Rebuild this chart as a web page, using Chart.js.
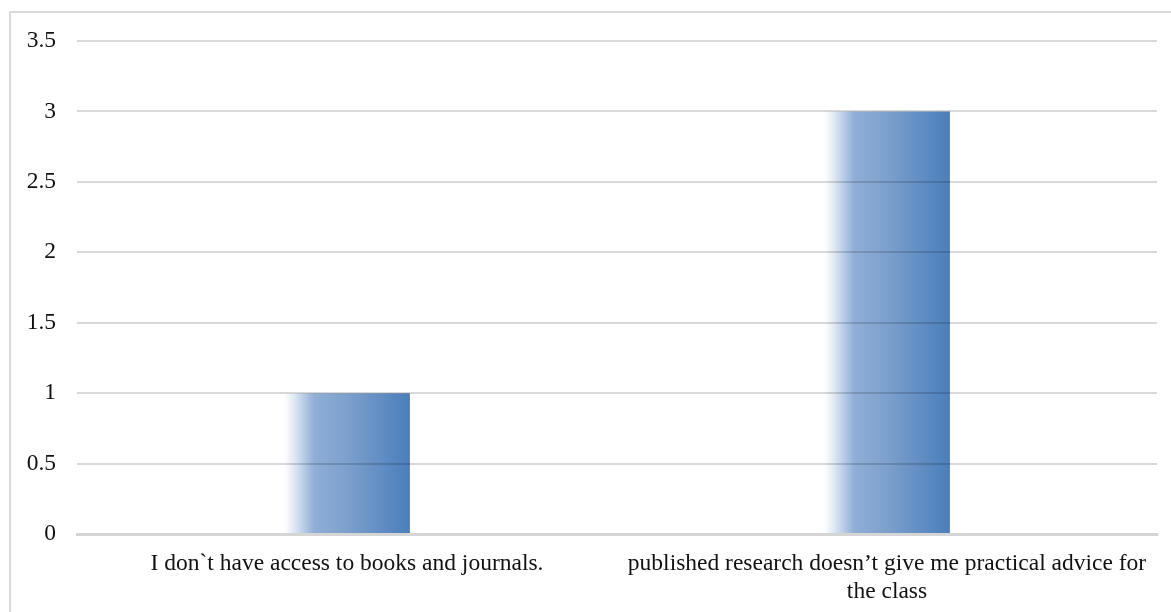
<!DOCTYPE html>
<html>
<head>
<meta charset="utf-8">
<script src="https://cdn.jsdelivr.net/npm/chart.js@4/dist/chart.umd.min.js"></script>
<style>
  html, body { margin: 0; padding: 0; background: #ffffff; }
  #wrap { position: relative; width: 1171px; height: 612px; overflow: hidden; background: #ffffff; }
  #frame { position: absolute; left: 9px; top: 11px; width: 1200px; height: 700px; border: 2px solid #d9d9d9; box-sizing: border-box; }
  #holder { position: absolute; left: 0; top: 0; width: 1171px; height: 612px; }
</style>
</head>
<body>
<div id="wrap">
  <div id="frame"></div>
  <div id="holder"><canvas id="chart" width="1171" height="612"></canvas></div>
</div>
<script>
// Reasons given for not using published research
const categories = [
  "I don`t have access to books and journals.",
  ["published research doesn’t give me practical advice for", "the class"]
];
const responses = [1, 3];
const yTicks = [0, 0.5, 1, 1.5, 2, 2.5, 3, 3.5];

const BAR_PCT = 0.466;
const CAT_PCT = 0.5;

// Horizontal white-to-blue fill across each bar, built from the x scale
function barFill(c) {
  const chart = c.chart;
  const xs = chart.scales && chart.scales.x;
  if (!xs || !chart.chartArea || c.dataIndex === undefined) return '#7da0cc';
  const w = (xs.width / categories.length) * CAT_PCT * BAR_PCT;
  const cx = xs.getPixelForValue(c.dataIndex);
  const g = chart.ctx.createLinearGradient(cx - w / 2, 0, cx + w / 2, 0);
  g.addColorStop(0.00, '#ffffff');
  g.addColorStop(0.07, '#e4ebf5');
  g.addColorStop(0.24, '#90aed6');
  g.addColorStop(0.50, '#7da0cc');
  g.addColorStop(1.00, '#4a7ebb');
  return g;
}

new Chart(document.getElementById('chart'), {
  type: 'bar',
  data: {
    labels: categories,
    datasets: [{
      data: responses,
      backgroundColor: barFill,
      borderWidth: 0,
      barPercentage: BAR_PCT,
      categoryPercentage: CAT_PCT
    }]
  },
  options: {
    responsive: false,
    animation: false,
    events: [],
    layout: { padding: { left: 0, top: 41, right: 14, bottom: 0 } },
    plugins: { legend: { display: false }, tooltip: { enabled: false } },
    scales: {
      x: {
        grid: { display: false, drawTicks: false },
        border: { display: true, color: '#d5d5d5', width: 3 },
        ticks: {
          color: '#111111',
          font: { family: 'Liberation Serif', size: 23.5, lineHeight: 1.2 },
          padding: 16,
          maxRotation: 0,
          minRotation: 0,
          autoSkip: false
        },
        afterFit(scale) { scale.height = 78; }
      },
      y: {
        min: 0,
        max: 3.5,
        afterBuildTicks(scale) { scale.ticks = yTicks.map(v => ({ value: v })); },
        // translucent grid drawn above the bars; the zero line comes from the x axis border
        grid: {
          color: c => (c.tick && c.tick.value === 0) ? 'rgba(0,0,0,0)' : 'rgba(0,0,0,0.15)',
          lineWidth: 2,
          drawTicks: false,
          z: 1
        },
        border: { display: false },
        ticks: {
          color: '#111111',
          font: { family: 'Liberation Serif', size: 23.5 },
          padding: 21,
          callback: v => String(v)
        },
        afterFit(scale) { scale.width = 77; }
      }
    }
  }
});
</script>
</body>
</html>
